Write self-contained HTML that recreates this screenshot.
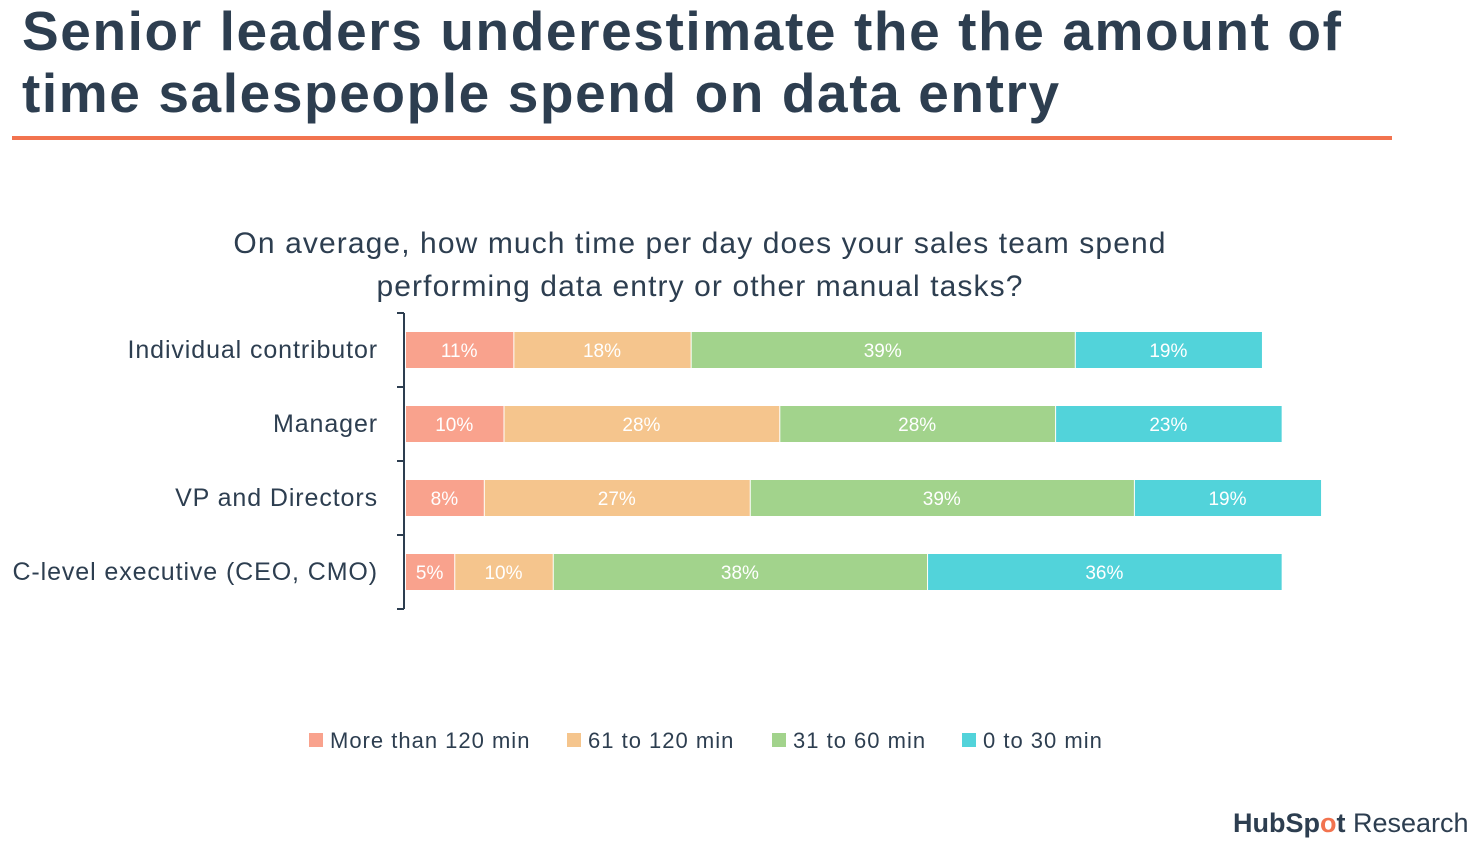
<!DOCTYPE html>
<html><head><meta charset="utf-8">
<style>
body{margin:0;width:1478px;height:852px;background:#fff;overflow:hidden;font-family:"Liberation Sans",sans-serif;position:relative}
.title{position:absolute;left:22px;top:0px;font-size:55px;font-weight:bold;color:#2d3e50;line-height:62px;letter-spacing:1.6px;white-space:nowrap}
.rule{position:absolute;left:12px;top:136px;width:1380px;height:4px;background:#f2734f}
.sub{position:absolute;left:0;width:1400px;text-align:center;top:222px;font-size:30px;color:#2d3e50;line-height:43px;letter-spacing:1.1px}
svg{position:absolute;left:0;top:0}
.logo{position:absolute;left:1233px;top:808px;font-size:27px;color:#2d3e50}
</style></head><body>
<div class="title">Senior leaders underestimate the the amount of<br>time salespeople spend on data entry</div>
<div class="rule"></div>
<div class="sub">On average, how much time per day does your sales team spend<br>performing data entry or other manual tasks?</div>
<svg id="chart" width="1478" height="852"></svg>
<div class="logo"><b>HubSp<span style="color:#f2734f">o</span>t</b> Research</div>
<script>
const categories=["Individual contributor","Manager","VP and Directors","C-level executive (CEO, CMO)"];
const seriesNames=["More than 120 min","61 to 120 min","31 to 60 min","0 to 30 min"];
const s1=[11,10,8,5];
const s2=[18,28,27,10];
const s3=[39,28,39,38];
const s4=[19,23,19,36];
const colors=["#f9a28d","#f5c58d","#a2d38c","#52d3da"];
const series=[s1,s2,s3,s4];
const svg=document.getElementById('chart');
const NS="http://www.w3.org/2000/svg";
const x0=405, pxPer=9.85, top0=313, band=74, barH=36;
const xs=v=>x0+v*pxPer;
const yBand=i=>top0+i*band;
function mk(t,a){const e=document.createElementNS(NS,t);for(const k in a)e.setAttribute(k,a[k]);svg.appendChild(e);return e;}
const ax=mk('line',{x1:404,x2:404,y1:top0,y2:yBand(categories.length),stroke:'#2d3e50','stroke-width':2});


for(let i=0;i<=categories.length;i++){
  const t=mk('line',{x1:397,x2:404,y1:yBand(i),y2:yBand(i),stroke:'#2d3e50','stroke-width':2});
  
  
}
categories.forEach((c,i)=>{
  const yc=yBand(i)+band/2;
  const lb=mk('text',{x:378,y:yc+8,'text-anchor':'end','font-size':25,fill:'#2d3e50','letter-spacing':0.9,'font-family':'Liberation Sans, sans-serif'});
  lb.textContent=c;
  
  
  let acc=0;
  series.forEach((s,j)=>{
    const v=s[i];
    const r=mk('rect',{x:xs(acc)+1,y:yc-barH/2,width:v*pxPer-1,height:barH,fill:colors[j]});
    
    
    const tx=mk('text',{x:xs(acc+v/2),y:yc+7,'text-anchor':'middle','font-size':19,fill:'#fff','font-family':'Liberation Sans, sans-serif'});
    tx.textContent=v+'%';
    
    
    acc+=v;
  });
});
const legX=[309,567,772,962];
seriesNames.forEach((n,j)=>{
  const r=mk('rect',{x:legX[j],y:733,width:14,height:14,fill:colors[j]});
  
  
  const t=mk('text',{x:legX[j]+21,y:748,'font-size':22,fill:'#2d3e50','letter-spacing':1,'font-family':'Liberation Sans, sans-serif'});
  t.textContent=n;
  
  
});
</script>
</body></html>
